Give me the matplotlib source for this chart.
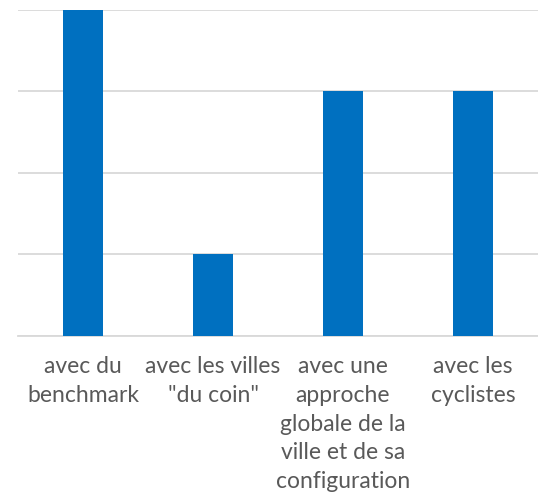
import matplotlib
matplotlib.use("Agg")
import matplotlib.pyplot as plt

categories = [
    "avec du\nbenchmark",
    "avec les villes\n\"du coin\"",
    "avec une\napproche\nglobale de la\nville et de sa\nconfiguration",
    "avec les\ncyclistes",
]
values = [4, 1, 3, 3]

plt.rcParams["font.family"] = ["Lato", "DejaVu Sans"]

fig = plt.figure(figsize=(5.38, 4.95), dpi=100)
ax = fig.add_axes([18 / 538, 1 - 335.5 / 495, 520 / 538, 326 / 495])

x = range(len(categories))
ax.bar(x, values, width=0.315, color="#0070C0", zorder=3)

ax.set_xlim(-0.5, len(categories) - 0.5)
ax.set_ylim(0, 4)
ax.set_yticks([0, 1, 2, 3, 4])
ax.yaxis.grid(True, color="#D9D9D9", linewidth=1.3, zorder=0)
ax.tick_params(axis="y", left=False, labelleft=False)
ax.tick_params(axis="x", length=0, pad=15)
ax.set_xticks(list(x))
ax.set_xticklabels(categories, fontsize=16.5, color="#595959", linespacing=1.45)

for s in ["top", "right", "left"]:
    ax.spines[s].set_visible(False)
ax.spines["bottom"].set_color("#D9D9D9")
ax.spines["bottom"].set_linewidth(1.3)

fig.savefig("out.png", dpi=100)
